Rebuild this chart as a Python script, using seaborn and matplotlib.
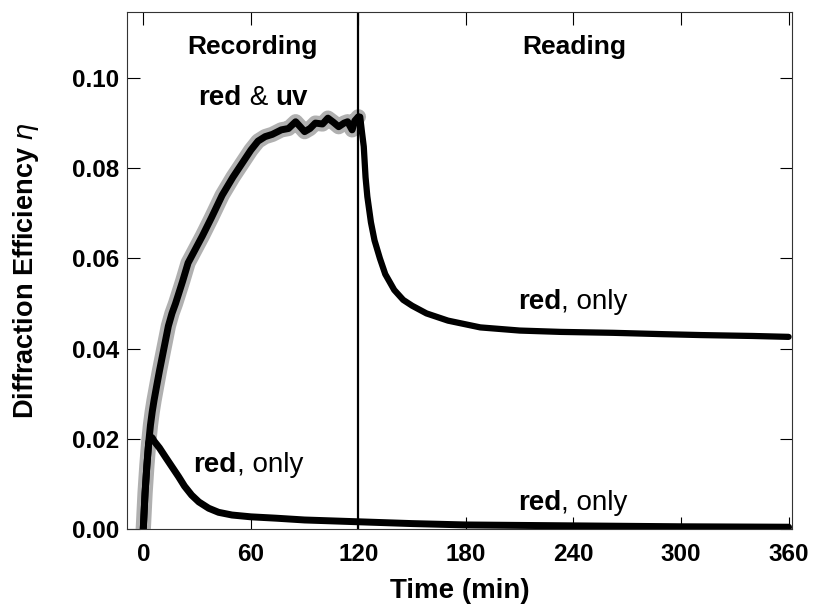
import pandas as pd
import seaborn as sns
import matplotlib.pyplot as plt

# recording phase (red & uv)
rec_t = [0, 0.5, 1, 2, 3, 4, 5, 6, 7.6, 9, 10, 12, 14, 16, 18, 20, 22, 25, 29, 33, 38,
         44, 50, 55, 60, 64, 68, 72, 77, 81, 85, 88, 90, 93, 96, 100, 103, 106, 109,
         112, 114, 116.5, 118, 120]
rec_eta = [0.0, 0.004, 0.008, 0.014, 0.019, 0.023, 0.026, 0.0285, 0.032, 0.035, 0.037,
           0.041, 0.045, 0.0478, 0.050, 0.0525, 0.055, 0.059, 0.062, 0.065, 0.069,
           0.074, 0.078, 0.081, 0.084, 0.086, 0.087, 0.0875, 0.0885, 0.0888, 0.0903,
           0.089, 0.0881, 0.0888, 0.0900, 0.0898, 0.0911, 0.0902, 0.0892, 0.0900,
           0.0903, 0.0885, 0.0905, 0.0914]

# reading phase (red only)
read_t = [120, 121, 122, 123, 124, 125, 127, 129, 132, 135, 140, 145, 150, 158, 170,
          188, 210, 233, 262, 290, 311, 340, 360]
read_eta = [0.0914, 0.0914, 0.088, 0.0848, 0.078, 0.0737, 0.068, 0.064, 0.060, 0.0565,
            0.053, 0.0508, 0.0495, 0.0478, 0.0462, 0.0447, 0.0440, 0.0437, 0.0435,
            0.0432, 0.0430, 0.0428, 0.0426]

# red only from the start
red_t = [0, 1, 2, 3, 3.9, 5, 6, 9, 12.3, 16, 19.7, 23, 27, 31, 36.5, 42, 49.5, 60, 74,
         90, 105, 120, 150, 180, 240, 300, 360]
red_eta = [0.0, 0.008, 0.014, 0.019, 0.0205, 0.0202, 0.0195, 0.018, 0.016, 0.0138,
           0.0116, 0.0095, 0.0075, 0.006, 0.0046, 0.0037, 0.0031, 0.0027, 0.0024,
           0.0020, 0.0018, 0.0016, 0.0012, 0.0009, 0.0007, 0.0005, 0.0004]

x_ticks = [0, 60, 120, 180, 240, 300, 360]
y_ticks = [0.00, 0.02, 0.04, 0.06, 0.08, 0.10]

rec = pd.DataFrame({"t": rec_t, "eta": rec_eta})
read = pd.DataFrame({"t": read_t, "eta": read_eta})
red = pd.DataFrame({"t": red_t, "eta": red_eta})

sns.set_style("ticks")
plt.rcParams['font.family'] = ['Liberation Sans', 'DejaVu Sans']
plt.rcParams['text.color'] = 'black'
plt.rcParams['axes.labelcolor'] = 'black'
plt.rcParams['xtick.color'] = 'black'
plt.rcParams['ytick.color'] = 'black'

fig = plt.figure(figsize=(8.15, 6.07), dpi=100)
ax = fig.add_axes([0.156, 0.1285, 0.816, 0.8515])

# gray halo under the recording curve
sns.lineplot(data=rec, x="t", y="eta", ax=ax, color="#b0b0b0", lw=11, solid_capstyle="round")
sns.lineplot(data=rec, x="t", y="eta", ax=ax, color="black", lw=5)
sns.lineplot(data=read, x="t", y="eta", ax=ax, color="black", lw=4.5)
sns.lineplot(data=red, x="t", y="eta", ax=ax, color="black", lw=5)

ax.axvline(120, color="black", lw=1.6)

ax.set_xlim(-9, 362)
ax.set_ylim(0, 0.1146)
ax.set_xticks(x_ticks)
ax.set_yticks(y_ticks)
ax.set_yticklabels([f"{v:.2f}" for v in y_ticks])
ax.tick_params(direction="in", length=9, width=0.8, top=True, right=True,
               labelsize=17.5)
ax.tick_params(axis="x", pad=10)
ax.tick_params(axis="y", pad=6)
for lab in ax.get_xticklabels() + ax.get_yticklabels():
    lab.set_fontweight("bold")
for s in ax.spines.values():
    s.set_linewidth(0.8)
    s.set_color("#333333")

ax.set_xlabel("Time (min)", fontsize=20, fontweight="bold", labelpad=9)
ax.set_ylabel(r"Diffraction Efficiency $\eta$", fontsize=19.5, fontweight="bold", labelpad=22)

ax.text(61, 0.1069, "Recording", fontsize=19, fontweight="heavy", ha="center", va="center")
ax.text(240.5, 0.1069, "Reading", fontsize=19, fontweight="heavy", ha="center", va="center")

def mixed(x, y, parts):
    # bold / regular pieces laid out side by side
    t = None
    for txt, w in parts:
        if t is None:
            t = ax.text(x, y, txt, fontsize=20, fontweight=w, va="center", ha="left")
        else:
            t = ax.annotate(txt, xycoords=t, xy=(1, 0), va="bottom", ha="left",
                            fontsize=20, fontweight=w)

mixed(30.7, 0.0956, [("red", "bold"), (" & ", "normal"), ("uv", "bold")])
mixed(209, 0.0503, [("red", "bold"), (", only", "normal")])
mixed(28, 0.0142, [("red", "bold"), (", only", "normal")])
mixed(209, 0.0058, [("red", "bold"), (", only", "normal")])

fig.savefig("out.png", dpi=100)
